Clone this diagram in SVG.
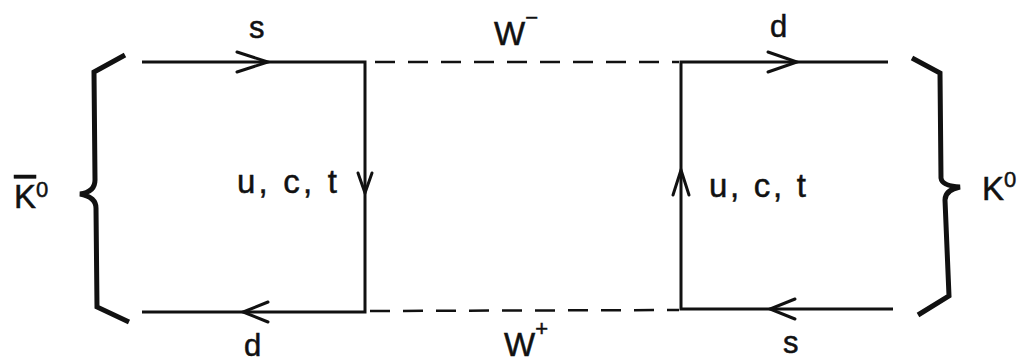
<svg xmlns="http://www.w3.org/2000/svg" width="1024" height="364" viewBox="0 0 1024 364">
<style>
.ln{fill:none;stroke:#111;stroke-width:3;stroke-linecap:butt;stroke-linejoin:miter}
.ds{fill:none;stroke:#111;stroke-width:2.5;stroke-dasharray:20 13}
.ar{fill:none;stroke:#111;stroke-width:3;stroke-linecap:round;stroke-linejoin:miter}
.br{fill:none;stroke:#111;stroke-width:5;stroke-linejoin:miter;stroke-linecap:butt}
text{font-family:"Liberation Sans",Arial,sans-serif;fill:#111;stroke:#111;stroke-width:0.5}
.t{font-size:31px}
.b{font-size:33px}
.sup{font-size:22px}
</style>
<rect width="1024" height="364" fill="#fff"/>
<g id="connectors">
  <polyline class="ln" points="142,62 365,62 365,312 142,312"/>
  <polyline class="ln" points="888,62 681,62 681,309 893,309"/>
  <line class="ds" x1="375" y1="62" x2="679" y2="62"/>
  <line class="ds" x1="370" y1="311" x2="679" y2="310"/>
  <polyline class="ar" points="237,52 268,62 237,72"/>
  <polyline class="ar" points="768,52 797,62 768,72"/>
  <polyline class="ar" points="268,302 243,312 268,322"/>
  <polyline class="ar" points="795,299 770,309 795,319"/>
  <polyline class="ar" points="358,173 365,193 372,173"/>
  <polyline class="ar" points="673,195 681,170 689,195"/>
</g>
<g id="brace-left">
  <path class="br" d="M125,55 L94,72 L95,180 Q95,192 80,194 Q96,197 96,208 L97,307 L129,322"/>
</g>
<g id="brace-right">
  <path class="br" d="M912,58 L940,73 L941,178 Q942,186 960,187 Q945,190 945,200 L949,296 L918,315"/>
</g>
<g id="label-s-top"><text class="t" x="249" y="38">s</text></g>
<g id="label-Wminus"><text class="b" x="494" y="45">W<tspan class="sup" dy="-20">−</tspan></text></g>
<g id="label-d-top"><text class="t" x="770" y="37">d</text></g>
<g id="label-uct-left"><text class="b" x="237" y="193" textLength="100" lengthAdjust="spacing">u, c, t</text></g>
<g id="label-uct-right"><text class="b" x="709" y="197" textLength="97" lengthAdjust="spacing">u, c, t</text></g>
<g id="label-Kbar"><text class="b" x="14" y="208"><tspan text-decoration="overline">K</tspan><tspan class="sup" dy="-11">0</tspan></text></g>
<g id="label-K"><text class="b" x="982" y="200">K<tspan class="sup" dy="-13">0</tspan></text></g>
<g id="label-d-bottom"><text class="t" x="244" y="356">d</text></g>
<g id="label-Wplus"><text class="b" x="504" y="356">W<tspan class="sup" dy="-20">+</tspan></text></g>
<g id="label-s-bottom"><text class="t" x="783" y="353">s</text></g>
</svg>
